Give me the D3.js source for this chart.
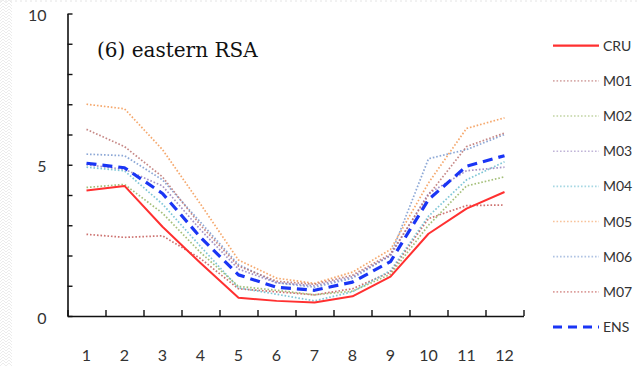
<!DOCTYPE html>
<html>
<head>
<meta charset="utf-8">
<script src="https://cdn.jsdelivr.net/npm/d3@7"></script>
<style>
  html, body { margin: 0; padding: 0; background: #fff; }
  svg { display: block; }
</style>
</head>
<body>
<svg id="chart" width="639" height="366"></svg>
<script>
// Monthly climatology, eastern RSA: observations (CRU), seven models and their ensemble mean
const months = ["1","2","3","4","5","6","7","8","9","10","11","12"];
const seriesNames = ["CRU","M01","M02","M03","M04","M05","M06","M07","ENS"];

const CRU = [4.15, 4.3, 2.95, 1.75, 0.6, 0.5, 0.45, 0.65, 1.3, 2.72, 3.55, 4.1];
const M01 = [6.17, 5.6, 4.6, 3.0, 1.65, 1.15, 1.05, 1.35, 2.05, 4.0, 5.6, 6.05];
const M02 = [4.25, 4.35, 3.4, 2.1, 0.98, 0.85, 0.7, 0.82, 1.38, 3.0, 4.3, 4.6];
const M03 = [5.0, 4.85, 4.3, 2.85, 1.55, 1.1, 1.0, 1.3, 2.0, 4.05, 4.8, 4.92];
const M04 = [4.92, 4.8, 3.7, 2.3, 0.93, 0.72, 0.5, 0.8, 1.5, 3.3, 4.5, 5.1];
const M05 = [7.0, 6.85, 5.5, 3.7, 1.85, 1.25, 1.08, 1.45, 2.2, 4.4, 6.2, 6.55];
const M06 = [5.35, 5.3, 4.5, 3.1, 1.7, 1.1, 0.95, 1.25, 2.0, 5.2, 5.5, 6.0];
const M07 = [2.7, 2.6, 2.65, 1.9, 0.9, 0.8, 0.7, 0.9, 1.45, 3.22, 3.65, 3.67];
const ENS = [5.05, 4.9, 4.05, 2.6, 1.36, 0.95, 0.85, 1.12, 1.8, 3.85, 4.95, 5.3];

const yTicks = [0, 5, 10];
const seriesValues = { CRU, M01, M02, M03, M04, M05, M06, M07, ENS };

const dotted = "1.6,1.9";
const styles = {
  CRU: { color: "#ff3030", width: 2,   dash: null,   opacity: 1 },
  M01: { color: "#b86a68", width: 1.7, dash: dotted, opacity: 0.8 },
  M02: { color: "#8fb05a", width: 1.7, dash: dotted, opacity: 0.8 },
  M03: { color: "#8e78b8", width: 1.7, dash: dotted, opacity: 0.8 },
  M04: { color: "#5fb8cc", width: 1.7, dash: dotted, opacity: 0.8 },
  M05: { color: "#f39248", width: 1.7, dash: dotted, opacity: 0.8 },
  M06: { color: "#7092cc", width: 1.7, dash: dotted, opacity: 0.8 },
  M07: { color: "#c0504d", width: 1.7, dash: dotted, opacity: 0.8 },
  ENS: { color: "#1a35f5", width: 3.2, dash: "10,6", opacity: 1 }
};

const svg = d3.select("#chart");

// faint textured frame along the left and top edges
const defs = svg.append("defs");
const pat = defs.append("pattern").attr("id", "zig")
  .attr("width", 6).attr("height", 6).attr("patternUnits", "userSpaceOnUse");
pat.append("path").attr("d", "M0,3 L3,0 L6,3 M0,6 L3,3 L6,6")
  .attr("fill", "none").attr("stroke", "#ececec").attr("stroke-width", 1);
svg.append("rect").attr("x", 0).attr("y", 0).attr("width", 12).attr("height", 366)
  .attr("fill", "url(#zig)");
svg.append("line").attr("x1", 0).attr("x2", 639).attr("y1", 1).attr("y2", 1)
  .attr("stroke", "#e4e4e4").attr("stroke-dasharray", "2,3");

const plotLeft = 67.5, plotRight = 523.5, plotTop = 13.5, plotBottom = 316;

const x = d3.scaleBand().domain(months).range([plotLeft, plotRight]);
const xEdge = d3.scaleLinear().domain([0, 12]).range([plotLeft, plotRight]);
const y = d3.scaleLinear().domain([0, 10]).range([plotBottom, plotTop]);

// x axis: tick marks on month boundaries, labels centred in each month
svg.append("g")
  .attr("transform", `translate(0,${plotBottom})`)
  .call(d3.axisBottom(xEdge).ticks(12).tickSize(-6).tickSizeOuter(0).tickFormat(""))
  .call(g => g.select(".domain").attr("stroke", "#111").attr("stroke-width", 1.6))
  .call(g => g.selectAll(".tick line").attr("stroke", "#111").attr("stroke-width", 1.4));

svg.append("g")
  .attr("transform", `translate(0,${plotBottom})`)
  .call(d3.axisBottom(x).tickSize(0).tickPadding(34))
  .call(g => g.select(".domain").remove())
  .call(g => g.selectAll("text")
    .attr("font-family", "Lato, 'Open Sans', sans-serif")
    .attr("font-size", 16).attr("fill", "#333"));

// y axis: unit ticks pointing inward, labels at 0, 5, 10
svg.append("g")
  .attr("transform", `translate(${plotLeft},0)`)
  .call(d3.axisLeft(y).ticks(10).tickSize(-5).tickSizeOuter(0)
    .tickFormat(d => yTicks.includes(d) ? d : "").tickPadding(21))
  .call(g => g.select(".domain").attr("stroke", "#111").attr("stroke-width", 1.6))
  .call(g => g.selectAll(".tick line").attr("stroke", "#111").attr("stroke-width", 1.4))
  .call(g => g.selectAll("text")
    .attr("font-family", "Lato, 'Open Sans', sans-serif")
    .attr("font-size", 16).attr("fill", "#333").attr("dy", "0.45em"));

// series lines, models first so CRU and ENS sit on top
const line = d3.line()
  .x((d, i) => x(months[i]) + x.bandwidth() / 2)
  .y(d => y(d));

const drawOrder = ["M07","M06","M05","M04","M03","M02","M01","CRU","ENS"];
svg.append("g").selectAll("path")
  .data(drawOrder)
  .join("path")
  .attr("d", k => line(seriesValues[k]))
  .attr("fill", "none")
  .attr("stroke", k => styles[k].color)
  .attr("stroke-opacity", k => styles[k].opacity)
  .attr("stroke-width", k => styles[k].width)
  .attr("stroke-dasharray", k => styles[k].dash)
  .attr("stroke-linejoin", "round");

// panel title
svg.append("text")
  .attr("x", 97).attr("y", 57)
  .attr("font-family", "'DejaVu Serif', serif")
  .attr("font-size", 20).attr("fill", "#111")
  .text("(6) eastern RSA");

// legend
const legendY = d3.scalePoint().domain(seriesNames).range([45.7, 327]);
const lg = svg.append("g").selectAll("g")
  .data(seriesNames)
  .join("g")
  .attr("transform", k => `translate(0,${legendY(k)})`);
lg.append("line")
  .attr("x1", 553).attr("x2", 599)
  .attr("stroke", k => styles[k].color)
  .attr("stroke-opacity", k => k === "CRU" || k === "ENS" ? 1 : 0.55)
  .attr("stroke-width", k => k === "ENS" ? 3.2 : (k === "CRU" ? 2.2 : 1.6))
  .attr("stroke-dasharray", k => k === "ENS" ? "9,6" : styles[k].dash);
lg.append("text")
  .attr("x", 603).attr("dy", "0.36em")
  .attr("font-family", "Lato, 'Open Sans', sans-serif")
  .attr("font-size", 14).attr("fill", "#333")
  .text(k => k);
</script>
</body>
</html>
